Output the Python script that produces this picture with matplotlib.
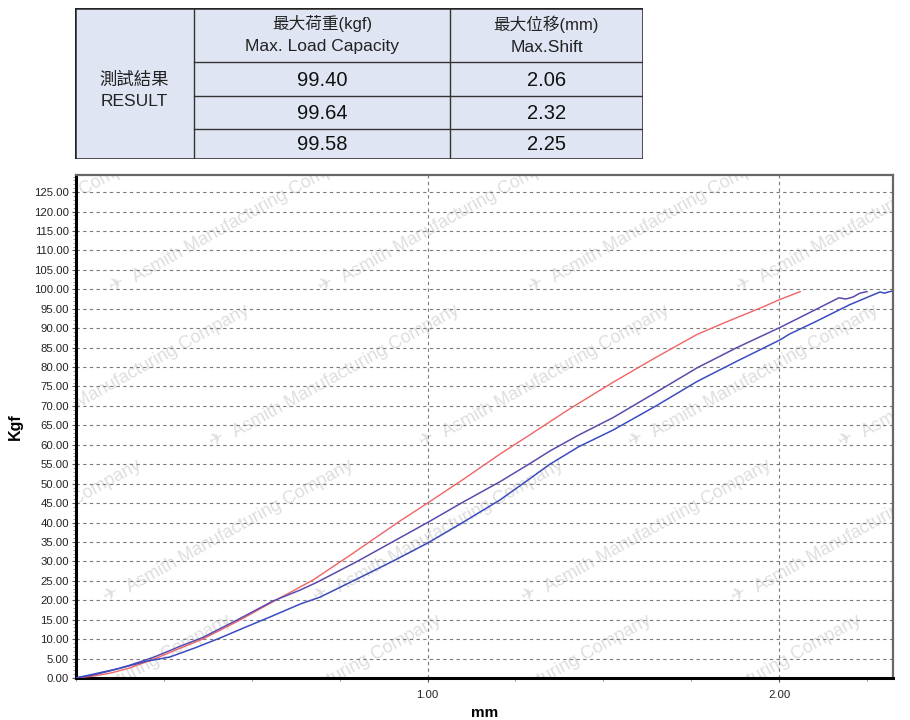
import matplotlib
matplotlib.use('Agg')
import matplotlib.pyplot as plt
from matplotlib.patches import Rectangle
from matplotlib.ticker import MultipleLocator, FixedLocator, FormatStrFormatter

plt.rcParams['font.family'] = ['Liberation Sans', 'Noto Sans CJK TC', 'DejaVu Sans']

# table data
row_title = ['測試結果', 'RESULT']
col_heads = [['最大荷重(kgf)', 'Max. Load Capacity'], ['最大位移(mm)', 'Max.Shift']]
max_load = ['99.40', '99.64', '99.58']
max_shift = ['2.06', '2.32', '2.25']

# curve data (mm, kgf)
red_x = [0, 0.05, 0.10, 0.15, 0.22, 0.30, 0.36, 0.46, 0.56, 0.674, 0.78, 0.92, 1.0, 1.10,
         1.206, 1.29, 1.40, 1.528, 1.65, 1.767, 1.85, 1.95, 2.003, 2.04, 2.06]
red_y = [0, 0.5, 1.3, 2.5, 4.8, 7.8, 10.0, 14.6, 19.6, 25.2, 31.6, 40.3, 45.0, 51.0,
         57.6, 62.5, 69.0, 76.1, 82.5, 88.4, 91.6, 95.3, 97.4, 98.7, 99.4]

purple_x = [0, 0.05, 0.10, 0.15, 0.22, 0.30, 0.36, 0.46, 0.56, 0.637, 0.685, 0.80, 0.90, 1.0,
            1.10, 1.206, 1.29, 1.348, 1.43, 1.528, 1.65, 1.767, 1.88, 2.003, 2.10, 2.17,
            2.19, 2.21, 2.23, 2.25]
purple_y = [0, 0.8, 1.9, 3.2, 5.3, 8.3, 10.4, 15.0, 19.8, 22.6, 24.6, 30.0, 35.0, 40.0,
            45.2, 50.5, 55.1, 58.4, 62.5, 67.0, 73.5, 79.8, 85.0, 90.2, 94.6, 97.8,
            97.5, 98.0, 99.0, 99.4]

blue_x = [0, 0.05, 0.10, 0.125, 0.20, 0.267, 0.34, 0.41, 0.48, 0.552, 0.637, 0.694, 0.80,
          0.90, 1.0, 1.10, 1.206, 1.29, 1.348, 1.43, 1.528, 1.65, 1.767, 1.88, 2.003, 2.03,
          2.10, 2.20, 2.25, 2.287, 2.30, 2.31, 2.32]
blue_y = [0, 1.0, 2.0, 2.5, 4.3, 5.4, 7.8, 10.3, 13.0, 15.7, 19.0, 20.8, 25.5,
          30.0, 34.7, 40.0, 45.8, 51.2, 55.0, 59.5, 63.8, 70.0, 76.3, 81.5, 87.0, 88.5,
          91.5, 96.0, 97.9, 99.3, 99.0, 99.3, 99.5]

W, H = 910, 720
fig = plt.figure(figsize=(W / 100, H / 100), dpi=100)

# ---- result table ----
tx0, ty0, tx1, ty1 = 75, 8, 643, 159
tab = fig.add_axes([tx0 / W, 1 - ty1 / H, (tx1 - tx0) / W, (ty1 - ty0) / H])
tab.set_xlim(0, tx1 - tx0)
tab.set_ylim(ty1 - ty0, 0)
tab.axis('off')
cols = [0, 119, 375, 568]
rows = [0, 54, 88, 121, 151]
tab.add_patch(Rectangle((0, 0), 568, 151, facecolor='#dfe5f3', edgecolor='none'))
for c in cols[1:-1]:
    tab.plot([c, c], [0, 151], color='#333333', lw=1.0)
for r in rows[1:-1]:
    tab.plot([cols[1], cols[-1]], [r, r], color='#333333', lw=1.0)
tab.add_patch(Rectangle((0, 0), 568, 151, facecolor='none', edgecolor='#222222', lw=1.8))

tab.text(cols[0] + 59, 72, row_title[0], ha='center', va='center', fontsize=12.5, color='#222222')
tab.text(cols[0] + 59, 94, row_title[1], ha='center', va='center', fontsize=12.5, color='#222222')
for i, (zh, en) in enumerate(col_heads):
    cx = (cols[i + 1] + cols[i + 2]) / 2
    tab.text(cx, 16, zh, ha='center', va='center', fontsize=12, color='#222222')
    tab.text(cx, 39, en, ha='center', va='center', fontsize=12.5, color='#222222')
for j in range(3):
    cy = (rows[j + 1] + rows[j + 2]) / 2 + 1
    tab.text((cols[1] + cols[2]) / 2, cy, max_load[j], ha='center', va='center', fontsize=14.5, color='#111111')
    tab.text((cols[2] + cols[3]) / 2, cy, max_shift[j], ha='center', va='center', fontsize=14.5, color='#111111')

# ---- chart ----
ax = fig.add_axes([76 / W, 1 - 678 / H, (893 - 76) / W, (678 - 175) / H])
ax.set_xlim(0, 2.324)
ax.set_ylim(0, 129.4)

# watermark tiles (clipped to the plot area)
wm_rows = [(285, [-92, 118, 327, 537, 745]),
           (440, [8, 218, 428, 637, 847]),
           (595, [-100, 112, 322, 530, 740]),
           (750, [-10, 200, 410, 620, 830])]
for wy, xs in wm_rows:
    for wx in xs:
        ax.text((wx + 16) / W, 1 - (wy - 6) / H, 'Asmith Manufacturing Company',
                transform=fig.transFigure, rotation=29, rotation_mode='anchor',
                ha='left', va='center', fontsize=13, color='#dedede', clip_on=True, zorder=0)
        ax.text(wx / W, 1 - wy / H, '✈', transform=fig.transFigure, rotation=29,
                ha='center', va='center', fontsize=13, color='#dedede', clip_on=True,
                zorder=0, family='DejaVu Sans')

ax.plot(red_x, red_y, color='#f26464', lw=1.0, zorder=3)
ax.plot(purple_x, purple_y, color='#5a4cae', lw=1.1, zorder=3)
ax.plot(blue_x, blue_y, color='#3a4cc0', lw=1.1, zorder=3)

ax.xaxis.set_major_locator(FixedLocator([1.0, 2.0]))
ax.xaxis.set_minor_locator(MultipleLocator(0.25))
ax.xaxis.set_major_formatter(FormatStrFormatter('%.2f'))
ax.yaxis.set_major_locator(MultipleLocator(5))
ax.yaxis.set_minor_locator(MultipleLocator(1))
ax.yaxis.set_major_formatter(FormatStrFormatter('%.2f'))
ax.tick_params(axis='both', which='major', labelsize=8.2, labelcolor='#222222',
               length=3, color='#555555', width=0.8)
ax.tick_params(axis='both', which='minor', length=2, color='#888888', width=0.6)
ax.tick_params(axis='y', pad=2)
ax.tick_params(axis='x', pad=6)
ax.grid(which='major', linestyle=(0, (3, 3)), color='#7a7a7a', lw=0.8, zorder=1)

for s in ['left', 'bottom']:
    ax.spines[s].set_linewidth(2.2)
    ax.spines[s].set_color('black')
for s in ['top', 'right']:
    ax.spines[s].set_linewidth(1.6)
    ax.spines[s].set_color('#666666')

ax.set_xlabel('mm', fontsize=11, fontweight='bold', labelpad=4)
ax.set_ylabel('Kgf', fontsize=11.5, fontweight='bold', labelpad=8)

fig.savefig('out.png', dpi=100)
